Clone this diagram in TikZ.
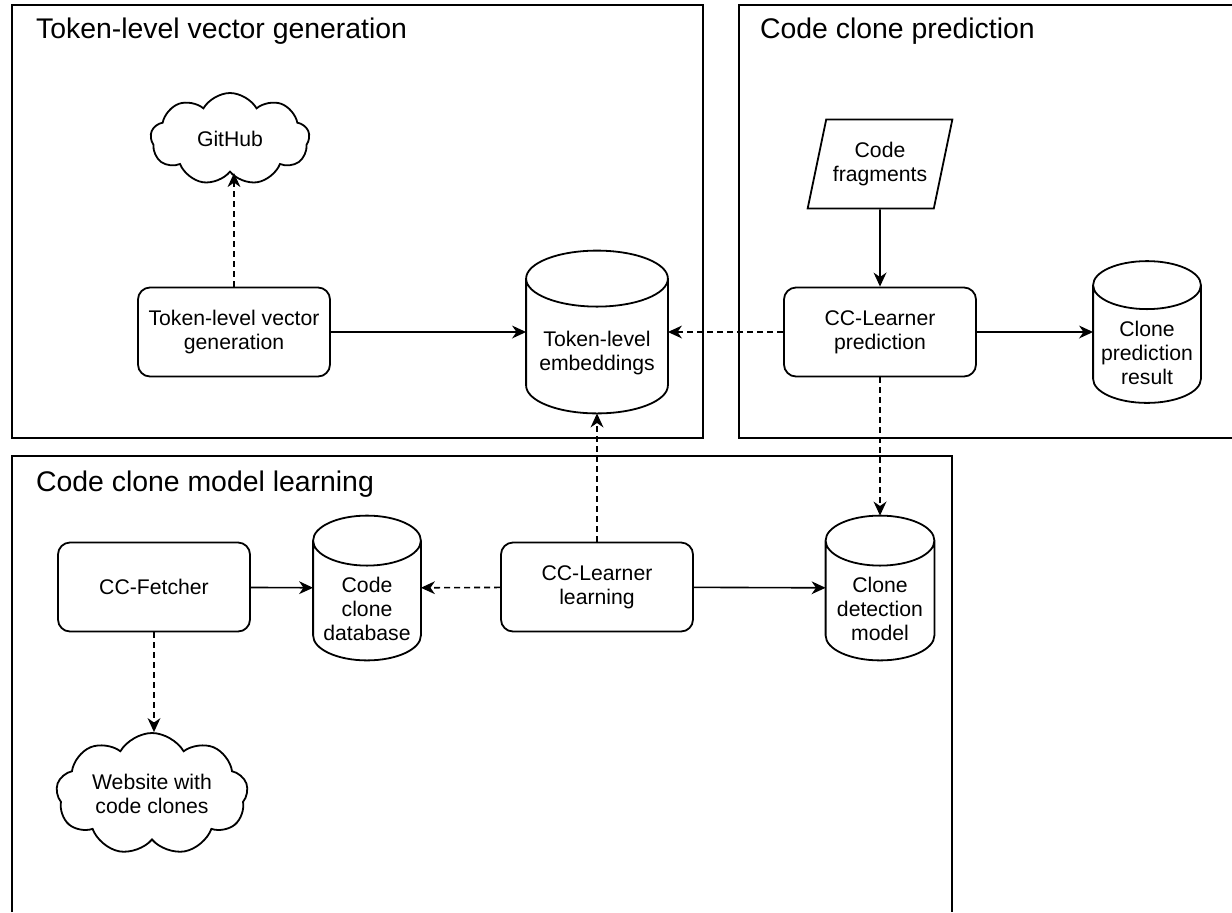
\documentclass[tikz,border=0pt]{standalone}
\usepackage{fontspec}
\setmainfont{Liberation Sans}
\usetikzlibrary{arrows.meta,shapes.geometric,shapes.symbols,calc}

% cylinder outline round a box node: node name, half height of the end ellipse
\newcommand\dbshape[2]{%
  \draw[line width=0.9pt] let \p1=(#1.north west), \p2=(#1.south east),
      \n1={(\x2-\x1)/2} in
    (\x1,\y1-#2) -- (\x1,\y2+#2)
    arc[start angle=180, end angle=360, x radius=\n1, y radius=#2]
    -- (\x2,\y1-#2)
    arc[start angle=0, end angle=180, x radius=\n1, y radius=#2]
    arc[start angle=180, end angle=360, x radius=\n1, y radius=#2];
}

\begin{document}
\begin{tikzpicture}[x=0.5pt, y=-0.5pt, >={Stealth[length=7pt,width=6.4pt,inset=2.2pt]},
    font=\fontsize{10.6}{12}\selectfont,
    frame/.style={line width=1pt},
    title/.style={anchor=west, font=\fontsize{14.2}{17}\selectfont},
    proc/.style={draw, line width=0.9pt, rounded corners=6pt,
                 minimum width=96pt, minimum height=44.5pt, align=center},
    db/.style 2 args={inner sep=0pt, minimum width=#1, minimum height=#2},
    dbtext/.style={align=center, yshift=-10.5pt},
    sky/.style 2 args={draw, line width=0.9pt, cloud, cloud puffs=9,
                 cloud puff arc=120, cloud ignores aspect,
                 minimum width=#1, minimum height=#2, align=center},
    datain/.style={draw, line width=0.9pt, trapezium, trapezium left angle=72,
                 trapezium right angle=108, trapezium stretches=true,
                 minimum width=71.5pt, minimum height=44.5pt, align=center},
    arr/.style={->, line width=0.8pt},
    darr/.style={->, line width=0.8pt, dash pattern=on 3pt off 2pt}]

  \useasboundingbox (0,0) rectangle (1232,912);

  %% Group frames
  \draw[frame] (12,5) rectangle (703,438);
  \draw[frame] (1232,5) -- (739,5) -- (739,438) -- (1232,438);
  \draw[frame] (12,912) -- (12,456) -- (952,456) -- (952,912);
  \node[title] (t1) at (29,31)  {Token-level vector generation};
  \node[title] (t2) at (753,31) {Code clone prediction};
  \node[title] (t3) at (29,484) {Code clone model learning};

  %% Token-level vector generation
  \node[sky={79.5pt}{46pt}] (github) at (230,139) {GitHub};
  \node[proc] (tvg) at (234,332) {Token-level vector\\generation};
  \node[db={70.5pt}{81pt},
        label={[dbtext]center:{Token-level\\embeddings}}] (tle) at (597,332) {};
  \dbshape{tle}{14pt}
  \draw[darr] (tvg) -- (tvg |- github.south);
  \draw[arr] (tvg) -- (tle);

  %% Code clone prediction
  \node[datain] (frag) at (880,164) {Code\\fragments};
  \node[proc] (ccp) at (880,332) {CC-Learner\\prediction};
  \node[db={53.5pt}{70.5pt},
        label={[dbtext]center:{Clone\\prediction\\result}}] (cpr) at (1147,332) {};
  \dbshape{cpr}{12pt}
  \draw[arr] (frag) -- (ccp);
  \draw[arr] (ccp) -- (cpr);
  \draw[darr] (ccp) -- (tle);

  %% Code clone model learning
  \node[proc] (fetch) at (154,587) {CC-Fetcher};
  \node[db={53.5pt}{72pt},
        label={[dbtext]center:{Code\\clone\\database}}] (ccdb) at (367,588) {};
  \dbshape{ccdb}{12.5pt}
  \node[proc] (ccl) at (597,587) {CC-Learner\\learning};
  \node[db={54pt}{72pt},
        label={[dbtext]center:{Clone\\detection\\model}}] (cdm) at (880,588) {};
  \dbshape{cdm}{12.5pt}
  \node[sky={95.5pt}{61pt}] (web) at (152,794) {Website with\\code clones};
  \draw[arr] (fetch) -- (ccdb);
  \draw[darr] (ccl) -- (ccdb);
  \draw[arr] (ccl) -- (cdm);
  \draw[darr] (ccl) -- (tle);
  \draw[darr] (ccp) -- (cdm);
  \draw[darr] (fetch) -- (fetch |- web.north);
\end{tikzpicture}
\end{document}
